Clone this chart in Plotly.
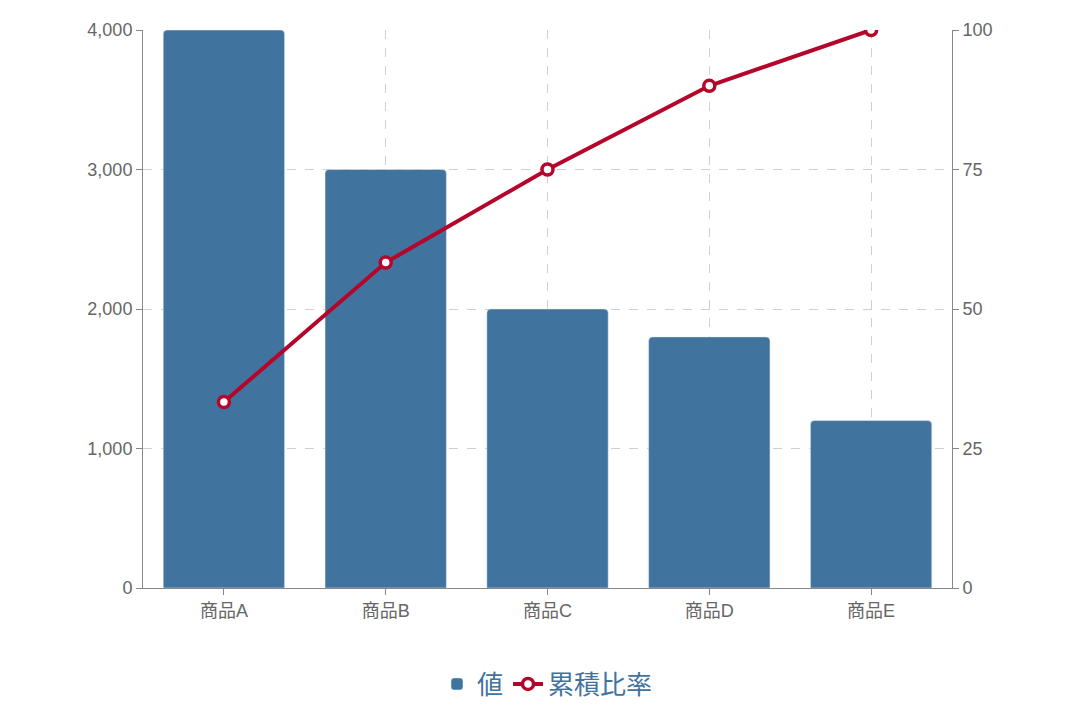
import plotly.graph_objects as go

categories = ["商品A", "商品B", "商品C", "商品D", "商品E"]
values = [4000, 3000, 2000, 1800, 1200]
cum_ratio = [33.33, 58.33, 75.0, 90.0, 100.0]

fig = go.Figure()
fig.add_trace(go.Bar(x=categories, y=values, name="値", marker=dict(color="#41739f", cornerradius=4),
                     width=0.75, yaxis="y"))
fig.add_trace(go.Scatter(x=categories, y=cum_ratio, name="累積比率", mode="lines+markers", yaxis="y2",
                         line=dict(color="#b5052a", width=4),
                         marker=dict(symbol="circle", size=11, color="white", line=dict(color="#b5052a", width=3.5))))
font = dict(family="Liberation Sans, Noto Sans CJK JP", size=18, color="#666")
fig.update_layout(
    width=1080, height=712, plot_bgcolor="white", paper_bgcolor="white",
    margin=dict(l=135, r=136, t=19, b=124), font=font, bargap=0.25,
    xaxis=dict(showgrid=True, gridcolor="#d0d0d0", griddash="dash", showline=True, linecolor="#888",
               ticks="outside", ticklen=6, tickcolor="#888", tickfont=dict(size=18, color="#666")),
    yaxis=dict(range=[0, 4000], tickvals=[0, 1000, 2000, 3000, 4000], tickformat=",", showgrid=True,
               gridcolor="#d0d0d0", griddash="dash", showline=True, linecolor="#888", ticks="outside",
               ticklen=6, tickcolor="#888", zeroline=False),
    yaxis2=dict(range=[0, 100], overlaying="y", side="right", tickvals=[0, 25, 50, 75, 100], ticksuffix="%",
                showgrid=False, showline=True, linecolor="#888", ticks="outside", ticklen=6, tickcolor="#888",
                zeroline=False),
    legend=dict(orientation="h", x=0.5, xanchor="center", y=-0.13, yanchor="top",
                font=dict(size=26, color="#41739f")),
    showlegend=True,
)
fig.write_html("out.html")
